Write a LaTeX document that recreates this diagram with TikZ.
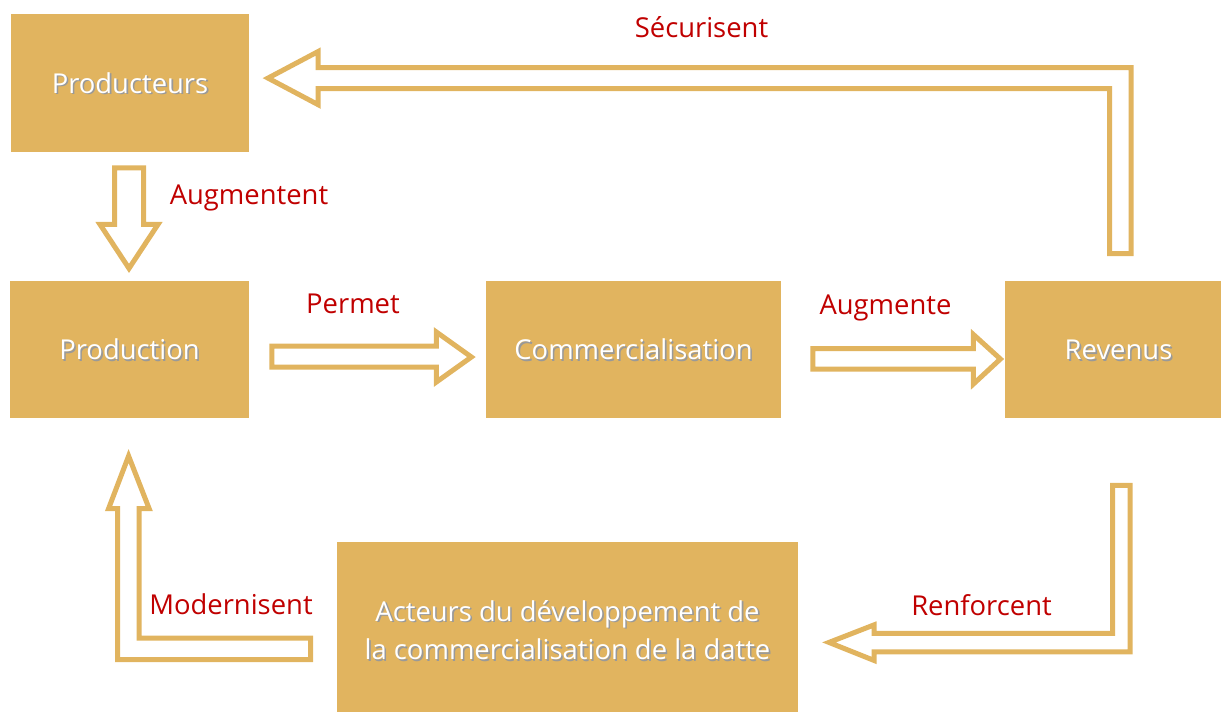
\documentclass[tikz,border=0pt]{standalone}
\usepackage{fontspec}
\setmainfont{Open Sans}
\usetikzlibrary{calc}

\definecolor{gold}{HTML}{E1B45F}
\definecolor{darkred}{HTML}{C00000}

% white text with a soft drop shadow
\newcommand{\shtext}[1]{\makebox[0pt][l]{\raisebox{-0.8pt}{\hspace{0.8pt}\textcolor{black!40}{#1}}}#1}

\tikzset{
  box/.style={rectangle, fill=gold, text=white, inner sep=0pt,
              text height=10pt, text depth=0pt},
  verb/.style={text=darkred, anchor=base, inner sep=0pt},
  blockarr/.style={draw=gold, line width=2.5pt, fill=white, line join=miter}
}

\begin{document}
\begin{tikzpicture}[x=0.5pt, y=-0.5pt, font=\fontsize{13.7}{19.2}\selectfont]
  \useasboundingbox (0,0) rectangle (1221,713);

  \node[box, minimum width=119pt, minimum height=69pt] (prodr) at (130,83) {\shtext{Producteurs}};
  \node[box, minimum width=119.5pt, minimum height=68.5pt] (prod) at (129.5,349.5) {\shtext{Production}};
  \node[box, minimum width=147.5pt, minimum height=68.5pt] (comm) at (633.5,349.5) {\shtext{Commercialisation}};
  \node[box, minimum width=108pt, minimum height=68.5pt] (rev) at (1113,349.5) {\hspace*{5.5pt}\shtext{Revenus}};
  \node[box, minimum width=230.5pt, minimum height=85pt, align=center, text height=, text depth=] (act) at (567.5,627)
    {\rule{0pt}{14.4pt}\shtext{Acteurs du développement de}\\ \shtext{la commercialisation de la datte}};

  % straight block arrows
  \draw[blockarr] ($(prodr.south)+(-15.5,15.5)$) -- ++(29,0) -- ++(0,56.5) -- ++(14.5,0)
    -- ++(-29,44) -- ++(-29,-44) -- ++(14.5,0) -- cycle;
  \draw[blockarr] ($(prod.east)+(22.5,-3.5)$) -- ++(164.5,0) -- ++(0,-14) -- ++(35,25)
    -- ++(-35,25) -- ++(0,-15) -- ++(-164.5,0) -- cycle;
  \draw[blockarr] ($(comm.east)+(31.5,-1)$) -- ++(160.5,0) -- ++(0,-14) -- ++(27,24.5)
    -- ++(-27,25) -- ++(0,-15) -- ++(-160.5,0) -- cycle;

  % bent block arrows
  \draw[blockarr] ($(rev.north)+(-3.5,-27)$) -- ++(21.5,0) -- ++(0,-186) -- ++(-813,0)
    -- ++(0,-16) -- ++(-50,26.5) -- ++(50,26.5) -- ++(0,-16) -- ++(791.5,0) -- cycle;
  \draw[blockarr] ($(rev.south)+(-0.5,67)$) -- ++(17.5,0) -- ++(0,166.5) -- ++(-256,0)
    -- ++(0,8.5) -- ++(-45,-18) -- ++(45,-17.5) -- ++(0,8.5) -- ++(238.5,0) -- cycle;
  \draw[blockarr] ($(act.west)+(-26,11)$) -- ++(0,21.5) -- ++(-193,0) -- ++(0,-151)
    -- ++(-9,0) -- ++(20,-52.5) -- ++(20.5,52.5) -- ++(-10,0) -- ++(0,129.5) -- cycle;

  % labels
  \node[verb] (secur) at (701.5,37) {Sécurisent};
  \node[verb] (augmt) at (249,204) {Augmentent};
  \node[verb] (perm) at (353,313) {Permet};
  \node[verb] (augm) at (885.5,314) {Augmente};
  \node[verb] (renf) at (981.5,615.7) {Renforcent};
  \node[verb] (modn) at (231,614) {Modernisent};
\end{tikzpicture}
\end{document}
